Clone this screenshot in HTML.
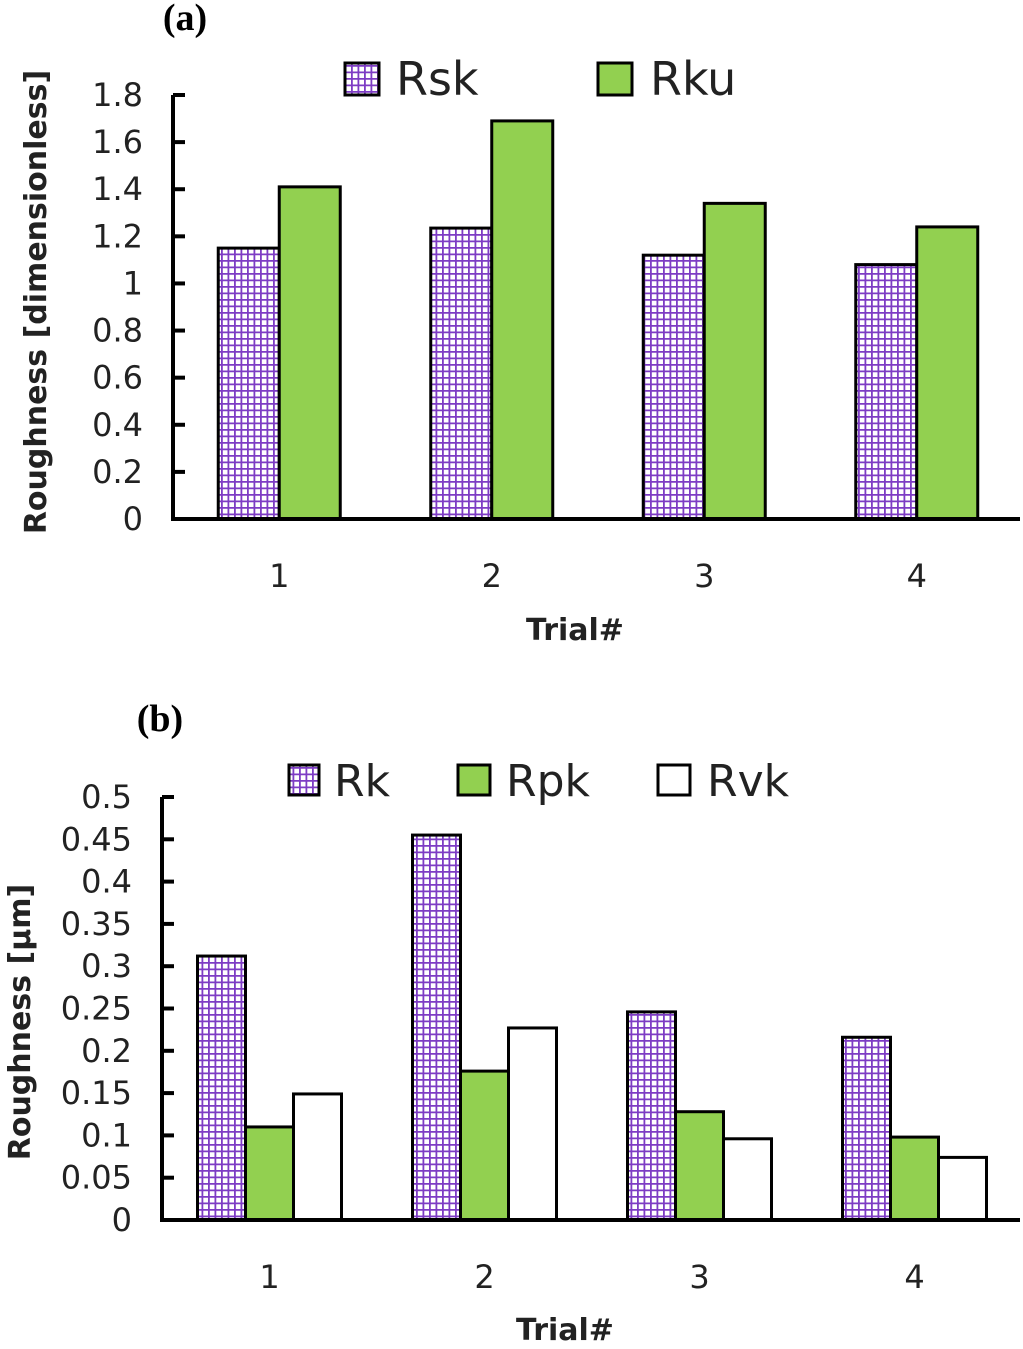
<!DOCTYPE html>
<html><head><meta charset="utf-8"><style>
body{margin:0;background:#fff;width:1023px;height:1344px;overflow:hidden}
svg text{font-family:"DejaVu Sans","Liberation Sans",sans-serif}
</style></head><body>
<svg id="svg" width="1023" height="1344" xmlns="http://www.w3.org/2000/svg">
<defs>
<pattern id="grid" width="6.5" height="6.5" patternUnits="userSpaceOnUse">
<rect width="6.5" height="6.5" fill="#fff"/>
<path d="M0 0.9H6.5M0.9 0V6.5" stroke="#7d3cc4" stroke-width="1.8"/>
</pattern>
</defs>
<g id="ga"></g>
<g id="gb"></g>
</svg>
<script>
const catsA=["1","2","3","4"];
const rsk=[1.15,1.235,1.12,1.08];
const rku=[1.41,1.69,1.34,1.24];
const ticksA=["0","0.2","0.4","0.6","0.8","1","1.2","1.4","1.6","1.8"];
const catsB=["1","2","3","4"];
const rk=[0.312,0.455,0.246,0.216];
const rpk=[0.11,0.176,0.128,0.098];
const rvk=[0.149,0.227,0.096,0.074];
const ticksB=["0","0.05","0.1","0.15","0.2","0.25","0.3","0.35","0.4","0.45","0.5"];
const NS="http://www.w3.org/2000/svg";
function mk(p,t,a,txt){const e=document.createElementNS(NS,t);for(const k in a)e.setAttribute(k,a[k]);if(txt!=null)e.textContent=txt;p.appendChild(e);return e;}
function chart(g,o){
  const y=v=>o.y0-(v/o.ymax)*(o.y0-o.y1);
  const x=i=>o.x0+o.cw*(i+0.5);
  o.series.forEach((s,si)=>{s.vals.forEach((v,i)=>{
    const bx=x(i)-o.bw*o.series.length/2+o.bw*si;
    const r=mk(g,'rect',{x:bx,y:y(v),width:o.bw,height:o.y0-y(v),fill:s.fill,stroke:'#000','stroke-width':3});
    
    
  });});
  o.ticks.forEach((t,i)=>{const v=o.ymax*i/(o.ticks.length-1);
    const l=mk(g,'line',{x1:o.x0,x2:o.x0+12,y1:y(v),y2:y(v),stroke:'#000','stroke-width':4});
    
    const tx=mk(g,'text',{x:o.x0-30,y:y(v)+11,'font-size':32,'text-anchor':'end',fill:'#222'},t);
    
  });
  o.cats.forEach((c,i)=>{const tx=mk(g,'text',{x:x(i),y:o.y0+68,'font-size':32,'text-anchor':'middle',fill:'#222'},c);
    });
  const ax=mk(g,'path',{d:`M${o.x0} ${o.y1}V${o.y0}H1020`,fill:'none',stroke:'#000','stroke-width':4});
  
}
const ga=document.getElementById('ga'),gb=document.getElementById('gb');
chart(ga,{x0:173,y0:519,y1:95,ymax:1.8,cw:212.5,bw:61,cats:catsA,ticks:ticksA,series:[{name:'Rsk',vals:rsk,fill:'url(#grid)'},{name:'Rku',vals:rku,fill:'#92d050'}]});
chart(gb,{x0:162,y0:1220,y1:797,ymax:0.5,cw:215,bw:48,cats:catsB,ticks:ticksB,series:[{name:'Rk',vals:rk,fill:'url(#grid)'},{name:'Rpk',vals:rpk,fill:'#92d050'},{name:'Rvk',vals:rvk,fill:'#fff'}]});
</script>
<svg width="1023" height="1344" style="position:absolute;left:0;top:0" xmlns="http://www.w3.org/2000/svg">
<text x="185" y="30" font-size="38" font-weight="bold" text-anchor="middle" style="font-family:'Liberation Serif',serif">(a)</text>
<text x="160" y="731" font-size="38" font-weight="bold" text-anchor="middle" style="font-family:'Liberation Serif',serif">(b)</text>
<g>
<rect x="345" y="63" width="34" height="32" fill="url(#grid)" stroke="#000" stroke-width="3"/>
<text x="396" y="95" font-size="46" fill="#222">Rsk</text>
<rect x="598" y="63" width="34" height="32" fill="#92d050" stroke="#000" stroke-width="3"/>
<text x="650" y="95" font-size="46" fill="#222">Rku</text>
</g>
<g>
<rect x="289" y="765" width="30" height="30" fill="url(#grid)" stroke="#000" stroke-width="3"/>
<text x="334" y="796" font-size="44" fill="#222">Rk</text>
<rect x="458" y="765" width="32" height="30" fill="#92d050" stroke="#000" stroke-width="3"/>
<text x="506" y="796" font-size="44" fill="#222">Rpk</text>
<rect x="658" y="765" width="32" height="30" fill="#fff" stroke="#000" stroke-width="3"/>
<text x="707" y="796" font-size="44" fill="#222">Rvk</text>
</g>
<text x="575" y="640" font-size="30" font-weight="bold" text-anchor="middle" fill="#222">Trial#</text>
<text x="565" y="1340" font-size="30" font-weight="bold" text-anchor="middle" fill="#222">Trial#</text>
<text transform="translate(46,302) rotate(-90)" font-size="30" font-weight="bold" text-anchor="middle" fill="#222">Roughness [dimensionless]</text>
<text transform="translate(30,1022) rotate(-90)" font-size="30" font-weight="bold" text-anchor="middle" fill="#222">Roughness [μm]</text>
</svg>
</body></html>
